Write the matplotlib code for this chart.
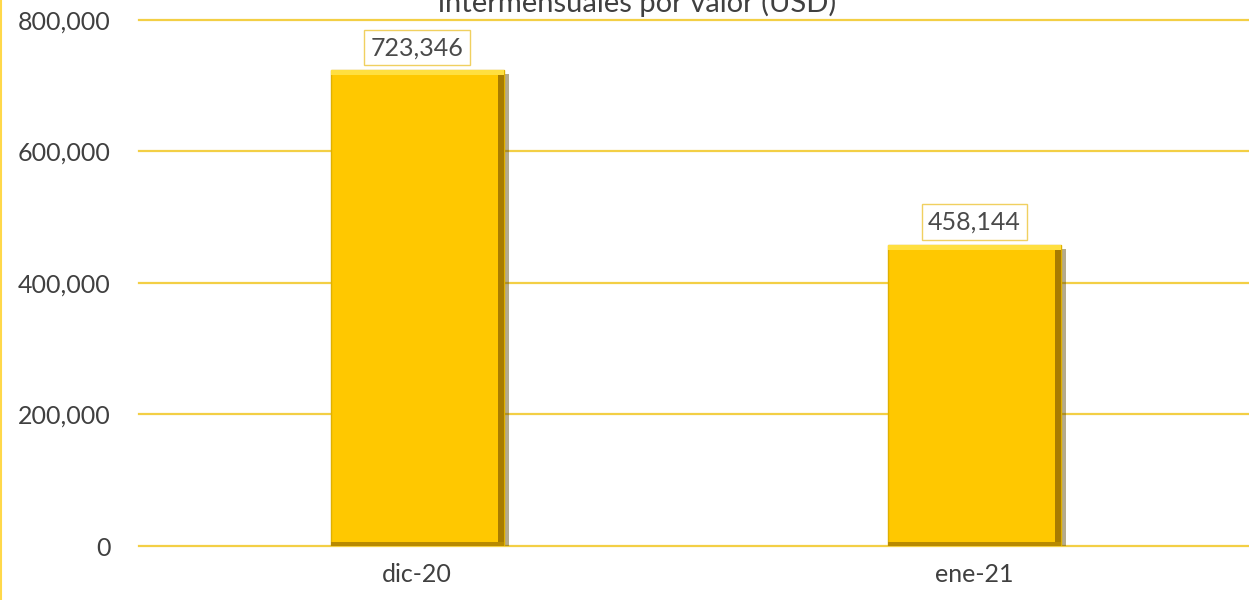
import matplotlib
matplotlib.use("Agg")
import matplotlib.pyplot as plt
import matplotlib.patheffects as pe
from matplotlib.lines import Line2D
from matplotlib.ticker import FuncFormatter

# data
months = ["dic-20", "ene-21"]
values = [723346, 458144]
yticks = [0, 200000, 400000, 600000, 800000]
title = "intermensuales por valor (USD)"

plt.rcParams["font.family"] = ["Lato", "DejaVu Sans"]

fig = plt.figure(figsize=(12.49, 6), dpi=100)
ax = fig.add_axes([0.111, 0.09, 0.892, 0.877])

x = list(range(len(months)))
w = 0.31

# gridlines
for t in yticks:
    ax.axhline(t, color="#F3CF45", lw=1.6, zorder=0, clip_on=False)

# main bars with drop shadow
bars = ax.bar(x, values, width=w, color="#FFC800", edgecolor="#E0B000", lw=1.0, zorder=3)
for b in bars:
    b.set_path_effects([pe.SimplePatchShadow(offset=(4, -3), shadow_rgbFace="#5a4300", alpha=0.45),
                        pe.Normal()])

# bevel: light top band, dark right band, darker bottom band
for xi, v in zip(x, values):
    ax.bar(xi, 8000, bottom=v - 8000, width=w, color="#FFDF40", lw=0, zorder=4)
    ax.bar(xi + w / 2 - 0.01, v - 8000, width=0.01, align="edge", color="#A87C00", lw=0, zorder=4)
    ax.bar(xi, 6000, width=w, color="#B88A00", lw=0, zorder=4)

# data labels
for xi, v in zip(x, values):
    ax.annotate(f"{v:,}", (xi, v), xytext=(0, 8), textcoords="offset points",
                ha="center", va="bottom", fontsize=18, color="#4a4a4a", zorder=5,
                bbox=dict(boxstyle="square,pad=0.25", fc="white", ec="#F0D060", lw=1))

ax.set_xlim(-0.5, 1.5)
ax.set_ylim(0, 800000)
ax.set_yticks(yticks)
ax.yaxis.set_major_formatter(FuncFormatter(lambda v, p: f"{int(v):,}"))
ax.set_xticks(x)
ax.set_xticklabels(months)
ax.tick_params(length=0, labelsize=18, colors="#404040", pad=20)
ax.tick_params(axis="x", pad=12)
for s in ax.spines.values():
    s.set_visible(False)

fig.text(0.510, 1 - 12 / 600, title, ha="center", va="baseline", fontsize=21, color="#404040")
fig.add_artist(Line2D([0.001, 0.001], [0, 1], color="#FFD84A", lw=1.5, transform=fig.transFigure))

fig.savefig("out.png", dpi=100)
